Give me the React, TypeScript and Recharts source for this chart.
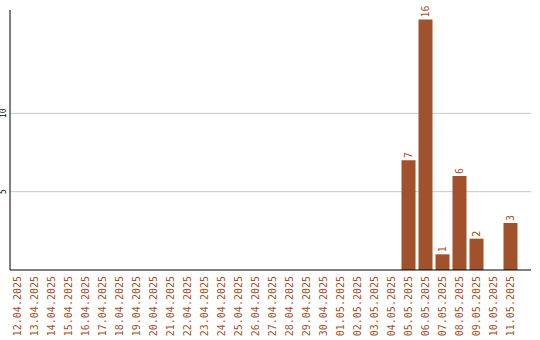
import { Bar, BarChart, CartesianGrid, LabelList, XAxis, YAxis } from "recharts";

const days = [
  "12.04.2025", "13.04.2025", "14.04.2025", "15.04.2025", "16.04.2025",
  "17.04.2025", "18.04.2025", "19.04.2025", "20.04.2025", "21.04.2025",
  "22.04.2025", "23.04.2025", "24.04.2025", "25.04.2025", "26.04.2025",
  "27.04.2025", "28.04.2025", "29.04.2025", "30.04.2025", "01.05.2025",
  "02.05.2025", "03.05.2025", "04.05.2025", "05.05.2025", "06.05.2025",
  "07.05.2025", "08.05.2025", "09.05.2025", "10.05.2025", "11.05.2025",
];

const counts = [
  0, 0, 0, 0, 0, 0, 0, 0, 0, 0,
  0, 0, 0, 0, 0, 0, 0, 0, 0, 0,
  0, 0, 0, 7, 16, 1, 6, 2, 0, 3,
];

const yTicks = [5, 10];

const rows = days.map((day, i) => ({ day, count: counts[i] }));

const BROWN = "#a0522d";
const MONO = "'DejaVu Sans Mono', monospace";
// axis baseline sits at y=270, labels start just below it
const LABEL_TOP = 276;

function DayTick({ x, payload }: any) {
  return (
    <text
      x={x}
      y={LABEL_TOP}
      transform={`rotate(-90, ${x}, ${LABEL_TOP})`}
      textAnchor="end"
      dominantBaseline="central"
      fill={BROWN}
      fontFamily={MONO}
      fontSize={10}
    >
      {payload.value}
    </text>
  );
}

function CountTick({ y, payload }: any) {
  return (
    <text
      x={4}
      y={y}
      transform={`rotate(-90, 4, ${y})`}
      textAnchor="middle"
      dominantBaseline="central"
      fill="#000"
      fontFamily={MONO}
      fontSize={8}
    >
      {payload.value}
    </text>
  );
}

function ValueLabel({ x, y, width, value }: any) {
  if (!value) return null;
  const cx = x + width / 2;
  const ty = y - 2;
  return (
    <text
      x={cx}
      y={ty}
      transform={`rotate(-90, ${cx}, ${ty})`}
      textAnchor="start"
      dominantBaseline="central"
      fill={BROWN}
      fontFamily={MONO}
      fontSize={10}
    >
      {value}
    </text>
  );
}

export default function App() {
  return (
    <div style={{ position: "fixed", left: 0, top: 0, background: "#fff" }}>
      <BarChart
        width={540}
        height={340}
        data={rows}
        margin={{ top: 10, right: 9, left: 0, bottom: 0 }}
      >
        <CartesianGrid vertical={false} stroke="#c8c8c8" horizontalValues={yTicks} />
        <XAxis
          dataKey="day"
          height={70}
          interval={0}
          padding={{ left: -1.5, right: 12.5 }}
          tickLine={false}
          axisLine={{ stroke: "#000" }}
          tick={<DayTick />}
        />
        <YAxis
          width={10}
          domain={[0, 16.6]}
          ticks={yTicks}
          tickLine={false}
          axisLine={{ stroke: "#000" }}
          tick={<CountTick />}
        />
        <Bar dataKey="count" fill={BROWN} barSize={14} isAnimationActive={false}>
          <LabelList dataKey="count" content={<ValueLabel />} />
        </Bar>
      </BarChart>
    </div>
  );
}
